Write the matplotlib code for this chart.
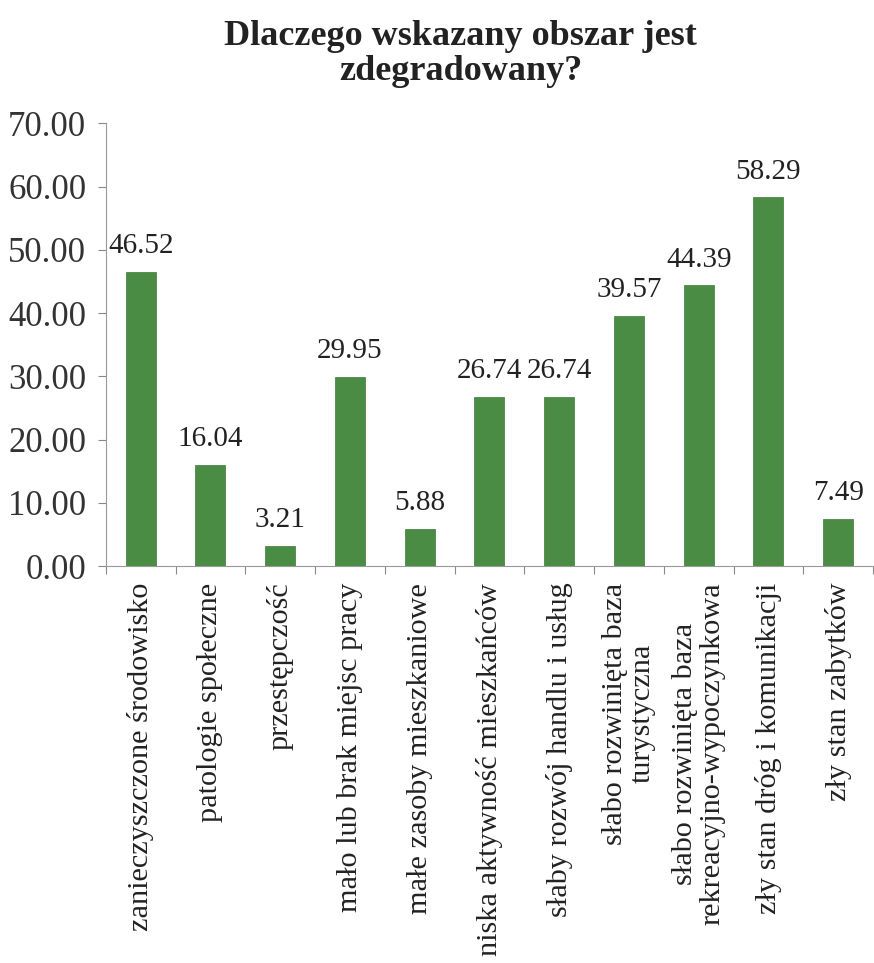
import matplotlib
matplotlib.use("Agg")
import matplotlib.pyplot as plt

plt.rcParams['font.family'] = ['Liberation Serif', 'DejaVu Serif']

categories = [
    'zanieczyszczone środowisko',
    'patologie społeczne',
    'przestępczość',
    'mało lub brak miejsc pracy',
    'małe zasoby mieszkaniowe',
    'niska aktywność mieszkańców',
    'słaby rozwój handlu i usług',
    'słabo rozwinięta baza\nturystyczna',
    'słabo rozwinięta baza\nrekreacyjno-wypoczynkowa',
    'zły stan dróg i komunikacji',
    'zły stan zabytków',
]
values = [46.52, 16.04, 3.21, 29.95, 5.88, 26.74, 26.74, 39.57, 44.39, 58.29, 7.49]
yticks = [0, 10, 20, 30, 40, 50, 60, 70]

fig = plt.figure(figsize=(8.74, 9.63), dpi=100)
ax = fig.add_axes([0.121, 0.412, 0.878, 0.46])

x = list(range(len(categories)))
ax.bar(x, values, width=0.43, color='#4a8c44', edgecolor='#3f7a3a', linewidth=0.5)
for xi, v in zip(x, values):
    ax.text(xi, v + 2.0, f'{v:.2f}', ha='center', va='bottom', fontsize=21, color='#222222')

ax.set_xlim(-0.5, len(categories) - 0.5)
ax.set_ylim(0, 70)
ax.set_yticks(yticks)
ax.set_yticklabels([f'{t:.2f}' for t in yticks], fontsize=25, color='#333333')
ax.tick_params(axis='y', length=6, color='#888888', pad=8)

ax.set_xticks([i - 0.5 for i in range(len(categories) + 1)], minor=False)
ax.set_xticklabels([])
ax.tick_params(axis='x', length=6, direction='out', color='#888888')
for xi, lab in zip(x, categories):
    ax.text(xi, -2.6, lab, rotation=90, ha='center', va='top', fontsize=21.8,
            multialignment='center', linespacing=1.05, color='#222222')

for s in ['top', 'right']:
    ax.spines[s].set_visible(False)
ax.spines['left'].set_color('#999999')
ax.spines['bottom'].set_color('#999999')
ax.spines['bottom'].set_linestyle((0, (2, 1)))

fig.text(0.527, 0.944, 'Dlaczego wskazany obszar jest\nzdegradowany?', ha='center', va='center',
         fontsize=26, fontweight='bold', linespacing=1.05, color='#222222')

fig.savefig('out.png', dpi=100)
